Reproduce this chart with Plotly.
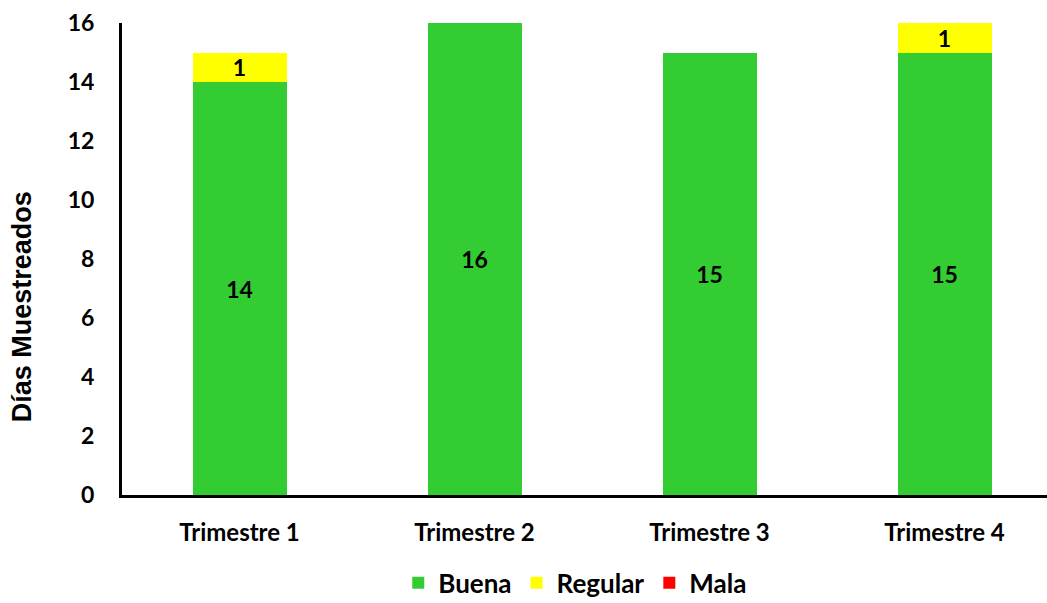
import plotly.graph_objects as go

categories = ["Trimestre 1", "Trimestre 2", "Trimestre 3", "Trimestre 4"]
buena = [14, 16, 15, 15]
regular = [1, 0, 0, 1]
mala = [0, 0, 0, 0]
y_ticks = [0, 2, 4, 6, 8, 10, 12, 14, 16]

def labels(vals):
    return [str(v) if v else "" for v in vals]

font_main = "Lato, 'Open Sans', sans-serif"

fig = go.Figure()
for name, vals, color in [("Buena", buena, "#33CC33"), ("Regular", regular, "#FFFF00"), ("Mala", mala, "#FF0000")]:
    fig.add_trace(go.Bar(
        x=categories, y=vals, name=name, marker=dict(color=color, line=dict(width=0)),
        text=labels(vals), textposition="inside", insidetextanchor="middle",
        constraintext="none", cliponaxis=False,
        textfont=dict(family=font_main, size=23, color="black", weight="bold"),
        textangle=0, width=0.4,
    ))

fig.update_layout(
    barmode="stack",
    width=1047, height=603,
    margin=dict(l=122, r=0, t=23, b=108, autoexpand=False),
    plot_bgcolor="white", paper_bgcolor="white",
    showlegend=True,
    legend=dict(orientation="h", x=0.49, xanchor="center", y=-0.186, yanchor="middle",
                font=dict(family=font_main, size=26, color="black", weight="bold"),
                itemwidth=30, traceorder="normal"),
    uniformtext=dict(mode=False),
    annotations=[dict(
        text="Días Muestreados", textangle=-90, xref="paper", yref="paper",
        x=-0.108, y=0.398, xanchor="center", yanchor="middle", showarrow=False,
        font=dict(family="Liberation Sans, Arial", size=27, color="black", weight="bold"),
    )],
)
fig.update_xaxes(
    range=[-0.5, -0.5 + 925 / 235], showline=True, linecolor="black", linewidth=3,
    showgrid=False, ticks="", ticklabelstandoff=14,
    tickfont=dict(family=font_main, size=24, color="black", weight="bold"),
)
fig.update_yaxes(
    range=[0, 16], tickvals=y_ticks, showline=True, linecolor="black", linewidth=3,
    showgrid=False, zeroline=False, ticks="", ticklabelstandoff=20,
    tickfont=dict(family=font_main, size=23, color="black", weight="bold"),
)

fig.write_html("out.html")
